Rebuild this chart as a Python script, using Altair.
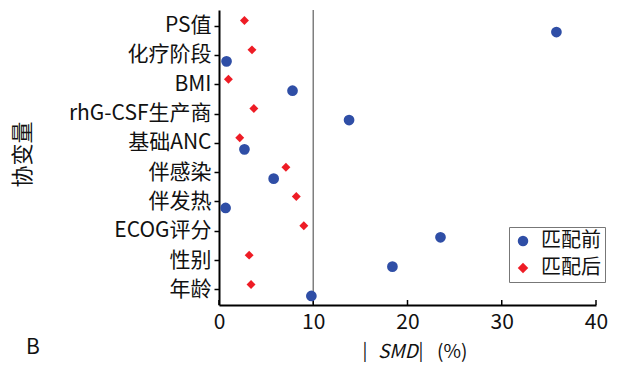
import altair as alt
import pandas as pd

covariates = ["PS值", "化疗阶段", "BMI", "rhG-CSF生产商", "基础ANC", "伴感染", "伴发热", "ECOG评分", "性别", "年龄"]
before = [35.8, 0.8, 7.8, 13.8, 2.7, 5.8, 0.7, 23.5, 18.4, 9.8]
after = [2.7, 3.5, 1.0, 3.7, 2.2, 7.1, 8.2, 9.0, 3.2, 3.4]
series = ["匹配前", "匹配后"]
x_ticks = [0, 10, 20, 30, 40]
threshold = [10]

FONT = "Noto Sans CJK SC"
LEFT, TOP = 211, 2
W, H = 377, 295
BOTTOM = 57
OX, OY = LEFT + 8, TOP + 8  # page position of plot origin

rows = []
for c, b, a in zip(covariates, before, after):
    rows.append({"cov": c, "smd": b, "series": series[0]})
    rows.append({"cov": c, "smd": a, "series": series[1]})
df = pd.DataFrame(rows)

xscale = alt.Scale(domain=[0, 40], nice=False, zero=True)
yscale = alt.Scale(domain=covariates, padding=0.53)
color = alt.Color("series:N", scale=alt.Scale(domain=series, range=["#2f4ea6", "#ee1c25"]),
                  legend=alt.Legend(title=None, orient="none", legendX=509 - OX, legendY=227 - OY,
                                    labelFont=FONT, labelFontSize=20, labelColor="#111",
                                    symbolSize=110, strokeColor="#777", padding=4,
                                    rowPadding=7, labelOffset=8, symbolStrokeWidth=0))
shape = alt.Shape("series:N", scale=alt.Scale(domain=series, range=["circle", "diamond"]))

base = alt.Chart(df).encode(
    x=alt.X("smd:Q", scale=xscale,
            axis=alt.Axis(values=x_ticks, title=None, labelFont=FONT, labelFlush=False,
                          labelFontSize=21, labelColor="#111", labelPadding=6, ticks=False,
                          domainColor="#000", domainWidth=2, grid=False)),
    y=alt.Y("cov:N", scale=yscale, sort=covariates,
            axis=alt.Axis(title="协变量", titleFont=FONT, titleFontSize=22, titleFontWeight="normal",
                          titleAngle=-90, titleX=34 - OX, titleY=154 - OY, titleAlign="center",
                          titleBaseline="bottom", titleColor="#111",
                          labelFont=FONT, labelFontSize=21, labelColor="#111", labelPadding=3,
                          tickSize=5, tickColor="#000", tickWidth=1.5,
                          domainColor="#000", domainWidth=2, grid=False)),
    color=color,
    shape=shape,
)

blue = base.transform_filter(alt.datum.series == series[0]).mark_point(
    filled=True, size=115, opacity=1, yOffset=6.5)
red = base.transform_filter(alt.datum.series == series[1]).mark_point(
    filled=True, size=80, opacity=1, yOffset=-5)

vline = alt.Chart(pd.DataFrame({"v": threshold})).mark_rule(color="#7f7f7f", strokeWidth=1.5).encode(
    x=alt.X("v:Q", scale=xscale))

tick_df = pd.DataFrame({"t": x_ticks})
xt = alt.Chart(tick_df).mark_rule(color="#000", strokeWidth=1.5).encode(
    x=alt.X("t:Q", scale=xscale), y=alt.value(H), y2=alt.value(H - 5))

def txt(s, px, py, size=19, style="normal", align="left"):
    return alt.Chart(pd.DataFrame({"t": [s]})).mark_text(
        font=FONT, fontSize=size, color="#111", align=align, baseline="middle",
        fontStyle=style).encode(text="t:N", x=alt.value(px - OX), y=alt.value(py - OY))

# x-axis title pieces: ｜SMD｜(%)
ty = 352
title_parts = [
    txt("|", 365, ty, size=18, align="center"),
    txt("SMD", 378, ty, style="italic"),
    txt("|", 421, ty, size=18, align="center"),
    txt("(%)", 437, ty),
]
label_b = txt("B", 33, 348, size=21, align="center")

chart = alt.layer(vline, xt, blue, red, label_b, *title_parts).properties(
    width=W, height=H, autosize=alt.AutoSizeParams(type="none"),
    padding={"left": LEFT, "top": TOP, "right": 601 - LEFT - W, "bottom": BOTTOM},
).configure_view(stroke=None)

chart.save("out.html", embed_options={"renderer": "svg", "actions": False})
